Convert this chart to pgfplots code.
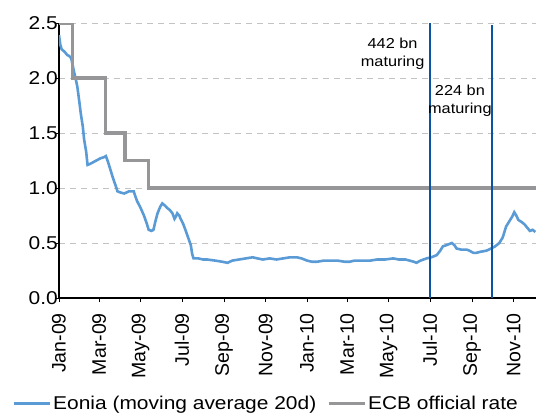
\documentclass[border=0pt]{standalone}
\usepackage{fontspec}
\setmainfont{Liberation Sans}[FakeStretch=1.13]
\newfontfamily\rotfont{Liberation Sans}
\usepackage{pgfplots}
\pgfplotsset{compat=1.18}
\definecolor{eonia}{RGB}{91,155,213}
\definecolor{ecb}{RGB}{150,150,152}
\definecolor{vline}{RGB}{10,84,162}
\definecolor{gridc}{RGB}{195,195,195}
\begin{document}
\begin{tikzpicture}
\useasboundingbox (-59bp,-116bp) rectangle (490bp,298bp);
\begin{axis}[
  at={(0,0)}, anchor=south west,
  scale only axis,
  width=477bp, height=275bp,
  xmin=0, xmax=702,
  ymin=0, ymax=2.5,
  axis x line*=bottom, axis y line*=left,
  axis line style={black, line width=2.4bp},
  xtick={0,59,120,181,243,304,365,424,485,546,608,669},
  xticklabels={Jan-09,Mar-09,May-09,Jul-09,Sep-09,Nov-09,Jan-10,Mar-10,May-10,Jul-10,Sep-10,Nov-10},
  x tick label style={rotate=90, anchor=east, font=\rotfont\fontsize{19.6}{23}\selectfont, inner xsep=11bp, inner ysep=1bp},
  ytick={0,0.5,1,1.5,2,2.5},
  y tick label style={font=\fontsize{18.6}{22}\selectfont, inner sep=2bp, xshift=5bp,
    /pgf/number format/fixed, /pgf/number format/fixed zerofill, /pgf/number format/precision=1},
  /pgf/number format/assume math mode=true,
  tick align=outside,
  major tick length=4bp,
  tick style={black, line width=0.9bp},
  ymajorgrids,
  grid style={gridc, dashed, dash pattern=on 6bp off 5bp, line width=0.8bp},
  legend columns=2,
  legend style={draw=none, fill=none, font=\fontsize{18.6}{22}\selectfont,
    at={(rel axis cs:-0.098,-0.418)}, anchor=south west, inner sep=0pt,
    /tikz/every even column/.append style={column sep=9bp}},
  legend image code/.code={\draw[#1, line width=2.8bp] (0bp,0bp) -- (36bp,0bp);},
  legend cell align=left,
]
\addplot[eonia, line width=2.6bp] coordinates {
(0,2.39) (2,2.30) (4,2.26) (8,2.24) (12,2.21) (15,2.20) (18,2.18)
(20,2.12) (22,2.06) (25,1.98) (27,1.92) (30,1.78) (32,1.68) (35,1.56)
(37,1.44) (40,1.33) (42,1.21) (46,1.22) (49,1.23) (55,1.25) (61,1.27)
(66,1.28) (69,1.29) (72,1.24) (76,1.16) (80,1.08) (84,1.01) (86,0.97)
(90,0.96) (96,0.95) (103,0.97) (110,0.97) (112,0.93) (115,0.88) (120,0.82)
(125,0.75) (129,0.68) (132,0.62) (136,0.61) (139,0.62) (142,0.70) (145,0.77)
(149,0.83) (152,0.86) (156,0.84) (159,0.82) (163,0.80) (167,0.77) (170,0.72)
(172,0.74) (174,0.77) (177,0.75) (179,0.72) (183,0.67) (186,0.62) (190,0.55)
(194,0.48) (196,0.40) (198,0.36) (205,0.36) (212,0.35) (218,0.35) (230,0.34)
(240,0.33) (248,0.32) (255,0.34) (265,0.35) (275,0.36) (285,0.37) (292,0.36)
(300,0.35) (310,0.36) (320,0.35) (330,0.36) (340,0.37) (350,0.37) (357,0.36)
(365,0.34) (372,0.33) (380,0.33) (390,0.34) (400,0.34) (410,0.34) (420,0.33)
(428,0.33) (435,0.34) (445,0.34) (458,0.34) (468,0.35) (480,0.35) (492,0.36)
(500,0.35) (510,0.35) (516,0.34) (522,0.33) (526,0.32) (532,0.34) (541,0.36)
(548,0.37) (556,0.39) (561,0.43) (565,0.47) (570,0.48) (578,0.50) (582,0.48)
(585,0.45) (592,0.44) (600,0.44) (604,0.43) (610,0.41) (614,0.41) (620,0.42)
(629,0.43) (636,0.45) (642,0.47) (648,0.50) (653,0.55) (658,0.65) (663,0.70)
(667,0.74) (670,0.78) (673,0.75) (676,0.71) (681,0.69) (685,0.67) (689,0.64)
(693,0.61) (697,0.62) (701,0.60)
};
\addlegendentry{Eonia (moving average 20d)}
\addplot[ecb, line width=3.2bp, const plot] coordinates {
(0,2.5) (20,2.0) (69,1.5) (97,1.25) (132,1.0) (702,1.0)
};
\addlegendentry{ECB official rate}
\addplot[vline, line width=2.4bp, forget plot] coordinates {(546,0) (546,2.5)};
\addplot[vline, line width=2.4bp, forget plot] coordinates {(637,0) (637,2.48)};
\node[align=center, font=\fontsize{14.5}{18}\selectfont, inner sep=0pt] at (axis cs:491,2.22) {442 bn\\maturing};
\node[align=center, font=\fontsize{14.5}{18}\selectfont, inner sep=0pt] at (axis cs:590,1.79) {224 bn\\maturing};
\end{axis}
\end{tikzpicture}
\end{document}
